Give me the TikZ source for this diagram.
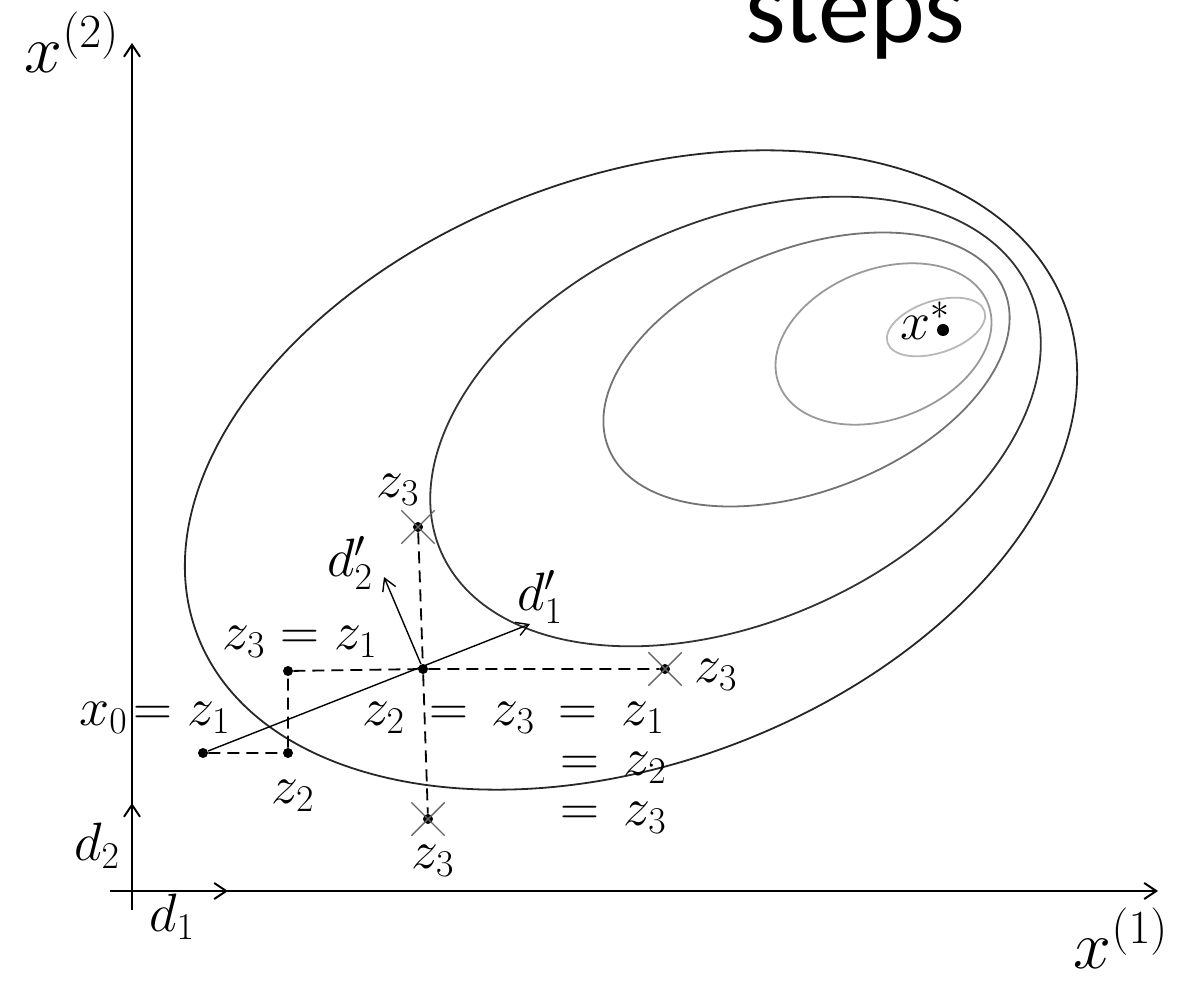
\documentclass[tikz,border=0pt]{standalone}
\usepackage{fix-cm}
\usepackage{amsmath}
\usepackage{fontspec}
\newfontfamily\stepsfont{Carlito}
\usetikzlibrary{positioning,arrows.meta,calc,shapes.misc}

\begin{document}
\begin{tikzpicture}[
  x=0.5pt, y=0.5pt,
  lbl/.style={inner sep=0pt, font=\fontsize{27}{31}\selectfont},
  big/.style={inner sep=0pt, font=\fontsize{34}{38}\selectfont},
  axis/.style={line width=1pt, -{Straight Barb[length=6pt,width=8pt]}},
  arr/.style={line width=0.7pt, -{Straight Barb[length=6pt,width=7pt]}},
  trace/.style={line width=0.9pt, dash pattern=on 6pt off 3.5pt},
  level/.style={line width=0.9pt},
  pt/.style={circle, fill, inner sep=0pt, minimum size=5pt},
  hit/.style={draw=black!60, cross out, line width=0.7pt, inner sep=0pt, minimum size=16pt}
]
\useasboundingbox (0,0) rectangle (1181,980);

\node[inner sep=0pt, anchor=base west, font=\stepsfont\fontsize{52}{60}\selectfont] (title) at (745,937) {steps};

% level sets
\draw[level, black!85, rotate around={20.8:(631,510)}] (631,510) ellipse [x radius=464, y radius=293];
\draw[level, black!80, rotate around={24:(735.5,558.5)}] (735.5,558.5) ellipse [x radius=322, y radius=200];
\draw[level, black!55, rotate around={21.5:(806.5,610.5)}] (806.5,610.5) ellipse [x radius=213, y radius=121];
\draw[level, black!40, rotate around={21:(883.5,636)}] (883.5,636) ellipse [x radius=112, y radius=75];
\draw[level, black!28, rotate around={18:(936,653)}] (936,653) ellipse [x radius=51, y radius=26];

% axes
\coordinate (O) at (132,89);
\coordinate (xs) at (110,89);
\coordinate (xe) at (1158,89);
\coordinate (ys) at (132,70);
\coordinate (ye) at (132,937);
\coordinate (d1e) at (228,89);
\coordinate (d2e) at (132,177);
\draw[axis] (xs) -- (xe);
\draw[axis] (ys) -- (ye);
\draw[axis] (O) -- (d1e);
\draw[axis] (O) -- (d2e);
\node[big] (lx2) at (72,938) {$x^{(2)}$};
\node[big] (lx1) at (1121,42) {$x^{(1)}$};
\node[lbl] (ld1) at (172,63) {$d_1$};
\node[lbl] (ld2) at (97,134) {$d_2$};

% search points
\node[pt] (x0) at (203,227) {};
\node[pt] (z2a) at (288,227) {};
\node[pt] (z3a) at (288,309) {};
\node[pt] (C) at (423,311) {};
\node[pt] (z3t) at (418,453) {};
\node[pt] (z3r) at (665,311) {};
\node[pt] (z3b) at (428,161) {};
\node[hit] at (z3t) {};
\node[hit] at (z3r) {};
\node[hit] at (z3b) {};
\node[pt, minimum size=6pt] (xs1) at (943,650) {};

\draw[trace] (x0) -- (z2a) -- (z3a) -- (C) -- (z3r);
\draw[trace] (z3t) -- (C) -- (z3b);

\coordinate (d1t) at (530,356);
\coordinate (d2t) at (384,403);
\draw[arr] (x0) -- (d1t);
\draw[arr] (C) -- (d2t);

% labels
\node[lbl] (lz3t) at (398,490) {$z_3$};
\node[lbl] (lz31) at (300,338) {$z_3 = z_1$};
\node[lbl] (lx0) at (155,262) {$x_0\!= z_1$};
\node[lbl] (lz2) at (293,184) {$z_2$};
\node[lbl] (lz3b) at (433,119) {$z_3$};
\node[lbl] (lz3r) at (716,305) {$z_3$};
\node[lbl, anchor=east] (eqa) at (665,262) {$z_2 \,=\, z_3 \,=\, z_1$};
\node[lbl, anchor=east] (eqb) at (667,212) {$=\, z_2$};
\node[lbl, anchor=east] (eqc) at (667,162) {$=\, z_3$};
\node[lbl] (ld1p) at (540,383) {$d_1'$};
\node[lbl] (ld2p) at (350,417) {$d_2'$};
\node[lbl, anchor=east] (lxs) at (951,659) {$x^*$};
\end{tikzpicture}
\end{document}
